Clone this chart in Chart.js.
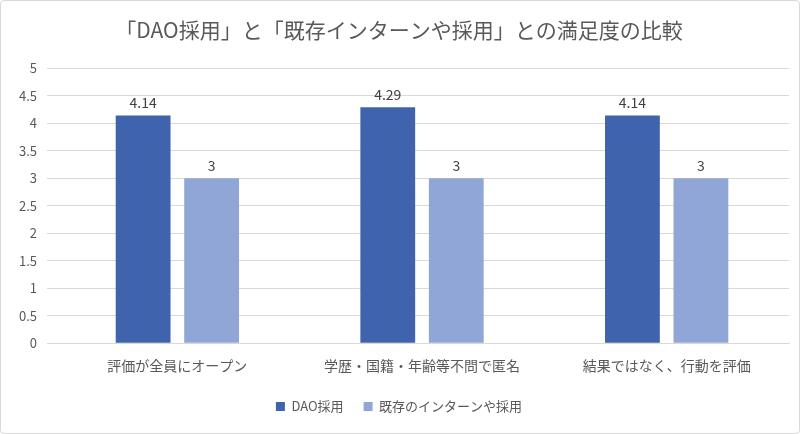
<!DOCTYPE html>
<html>
<head>
<meta charset="utf-8">
<script src="https://cdn.jsdelivr.net/npm/chart.js@4"></script>
<style>
  body { margin: 0; background: #fff; }
  #wrap { width: 798px; height: 432px; border: 1px solid #d9d9d9; border-radius: 4px; }
</style>
</head>
<body>
<div id="wrap"><canvas id="plot1" width="798" height="432"></canvas></div>
<script>
var categorias = ['評価が全員にオープン', '学歴・国籍・年齢等不問で匿名', '結果ではなく、行動を評価'];
var dao_valores = [4.14, 4.29, 4.14];
var existente_valores = [3, 3, 3];

// rotulos em cima das barras
var rotulos = {
    id: 'rotulos',
    afterDatasetsDraw: function (chart) {
        var ctx = chart.ctx;
        ctx.save();
        ctx.font = '14px "Noto Sans CJK JP", sans-serif';
        ctx.fillStyle = '#404040';
        ctx.textAlign = 'center';
        ctx.textBaseline = 'bottom';
        chart.data.datasets.forEach(function (ds, i) {
            chart.getDatasetMeta(i).data.forEach(function (bar, j) {
                ctx.fillText(ds.data[j], bar.x, bar.y - 6);
            });
        });
        ctx.restore();
    }
};

var fonte = '"Noto Sans CJK JP", sans-serif';

new Chart(document.getElementById('plot1'), {
    type: 'bar',
    data: {
        labels: categorias,
        datasets: [
            { label: 'DAO採用', data: dao_valores, backgroundColor: '#4063AD' },
            { label: '既存のインターンや採用', data: existente_valores, backgroundColor: '#90A6D7' }
        ]
    },
    options: {
        responsive: false,
        animation: false,
        layout: { padding: { left: 8, right: 10, top: 10, bottom: 10 } },
        categoryPercentage: 0.56,
        barPercentage: 0.8,
        plugins: {
            title: {
                display: true,
                text: '「DAO採用」と「既存インターンや採用」との満足度の比較',
                color: '#595959',
                font: { family: fonte, size: 21, weight: 'normal' },
                padding: { top: 6, bottom: 26 }
            },
            legend: {
                position: 'bottom',
                labels: {
                    boxWidth: 9, boxHeight: 9, color: '#595959',
                    font: { family: fonte, size: 13 }, padding: 20
                }
            },
            tooltip: { enabled: false }
        },
        scales: {
            x: {
                grid: { display: false },
                border: { color: '#d9d9d9' },
                ticks: { color: '#595959', font: { family: fonte, size: 14 }, padding: 6 }
            },
            y: {
                min: 0, max: 5,
                ticks: {
                    stepSize: 0.5, color: '#595959', font: { family: fonte, size: 13 }, padding: 10,
                    callback: function (v) { return String(v); }
                },
                grid: { color: '#d9d9d9' },
                border: { display: false }
            }
        }
    },
    plugins: [rotulos]
});
</script>
</body>
</html>
